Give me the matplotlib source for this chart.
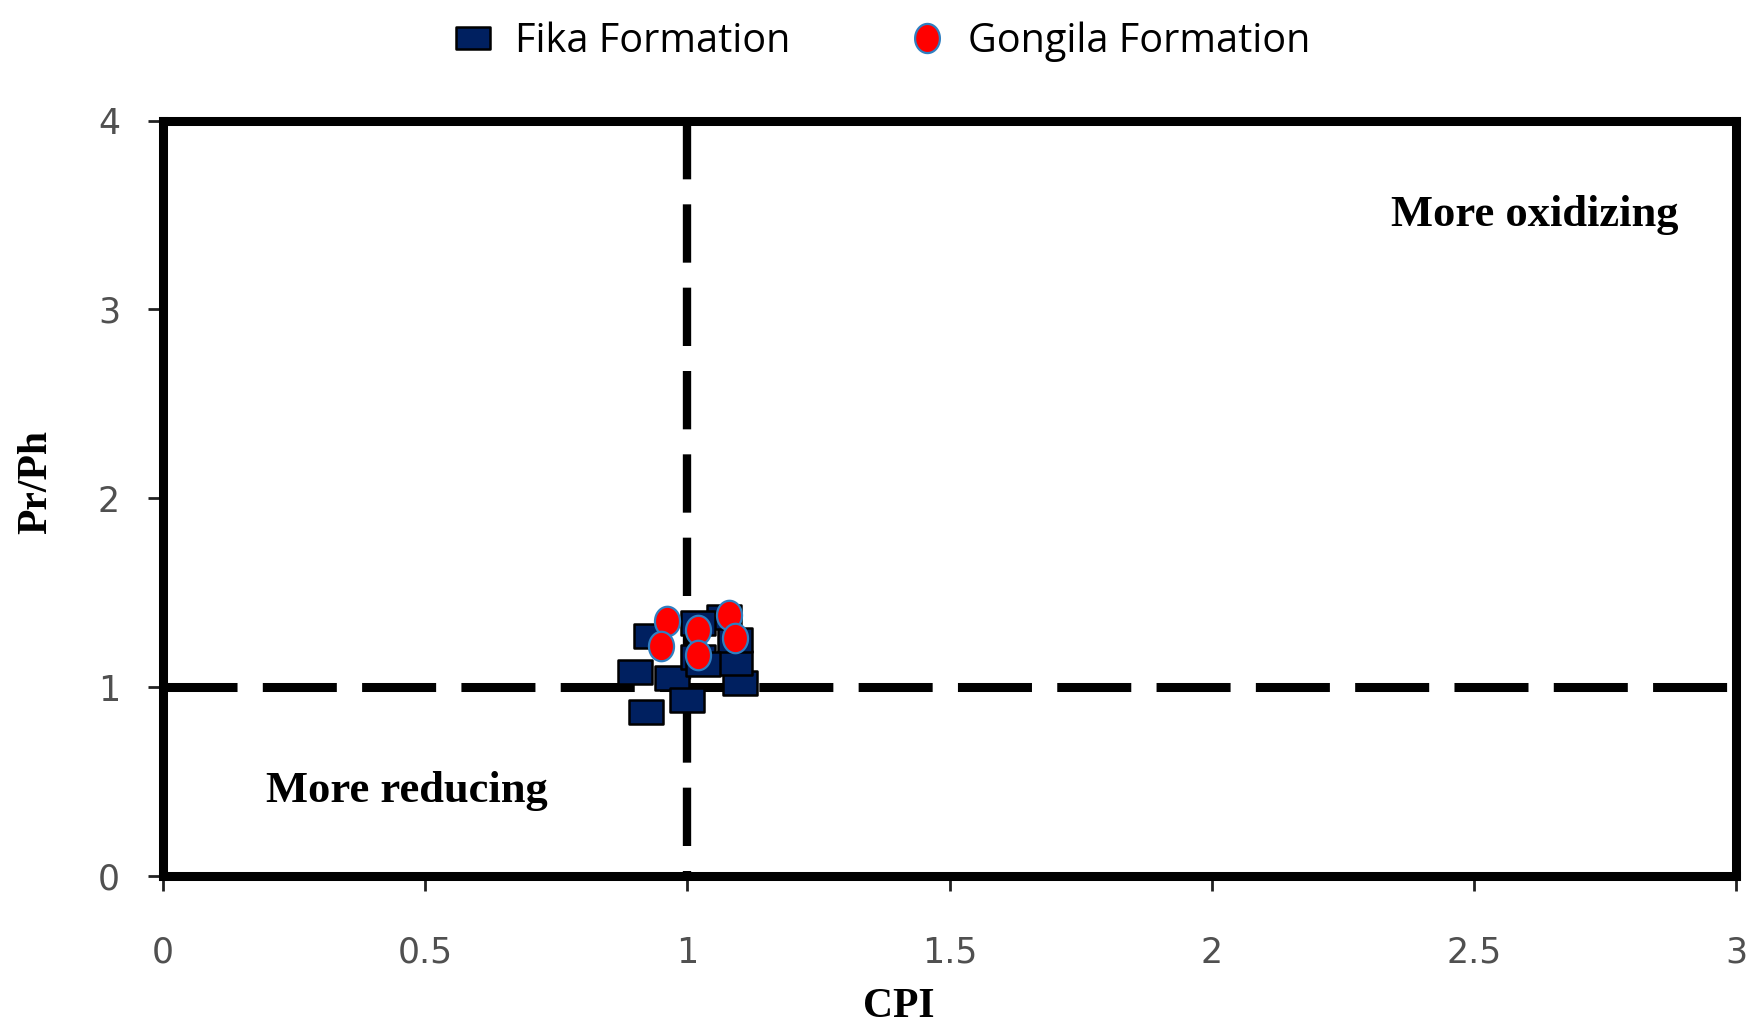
import numpy as np
import matplotlib.pyplot as plt
from matplotlib.path import Path
from matplotlib.lines import Line2D

# CPI and Pr/Ph values per formation
fika_cpi = [0.93, 0.90, 0.97, 1.00, 0.92, 1.10, 1.09, 1.09, 1.02, 1.07, 1.02, 1.03]
fika_prph = [1.27, 1.08, 1.05, 0.93, 0.87, 1.02, 1.13, 1.25, 1.16, 1.37, 1.34, 1.12]
gongila_cpi = [0.96, 0.95, 1.02, 1.02, 1.08, 1.09]
gongila_prph = [1.35, 1.22, 1.30, 1.17, 1.38, 1.26]

x_ticks = [0, 0.5, 1, 1.5, 2, 2.5, 3]
y_ticks = [0, 1, 2, 3, 4]

# wide box and tall oval markers
box = Path([(-1.45, -1), (1.45, -1), (1.45, 1), (-1.45, 1), (-1.45, -1)],
           [Path.MOVETO, Path.LINETO, Path.LINETO, Path.LINETO, Path.CLOSEPOLY])
t = np.linspace(0, 2 * np.pi, 60)
oval = Path(np.column_stack([0.85 * np.cos(t), np.sin(t)]), closed=True)

navy = '#002060'
red = '#ff0000'
edge_blue = '#2f7fc1'

fig = plt.figure(figsize=(17.48, 10.24), dpi=100)
ax = fig.add_axes([0.0933, 0.1445, 0.900, 0.7378])

ax.scatter(fika_cpi, fika_prph, marker=box, s=580, c=navy,
           edgecolors='black', linewidths=1.8, zorder=3)
ax.scatter(gongila_cpi, gongila_prph, marker=oval, s=450, c=red,
           edgecolors=edge_blue, linewidths=1.6, zorder=4)

# boundaries between reducing and oxidizing fields
ax.plot([0, 3], [1, 1], color='black', lw=6.5, dashes=(8.2, 2.8), zorder=2)
ax.plot([1, 1], [4, 0], color='black', lw=6.0, dashes=(7.0, 3.0), zorder=2)

ax.text(0.197, 0.39, 'More reducing', family='Liberation Serif',
        fontweight='bold', fontsize=32, va='baseline')
ax.text(2.341, 3.44, 'More oxidizing', family='Liberation Serif',
        fontweight='bold', fontsize=32, va='baseline')

ax.set_xlim(0, 3)
ax.set_ylim(0, 4)
ax.set_xticks(x_ticks)
ax.set_xticklabels([f'{v:g}' for v in x_ticks])
ax.set_yticks(y_ticks)
for s in ax.spines.values():
    s.set_linewidth(6.5)
ax.tick_params(direction='out', length=11, width=2, color='#222222',
               labelsize=25, labelcolor='#505050', pad=20)
ax.tick_params(axis='x', pad=32)
for lab in ax.get_xticklabels() + ax.get_yticklabels():
    lab.set_family(['Liberation Sans Narrow', 'DejaVu Sans'])

fig.text(0.514, 0.0166, 'CPI', family='Liberation Serif', fontweight='bold',
         fontsize=30, ha='center', va='center')
fig.text(0.021, 0.529, 'Pr/Ph', family='Liberation Serif', fontweight='bold',
         fontsize=30, ha='center', va='center', rotation=90)

handles = [
    Line2D([], [], ls='none', marker=box, markersize=24, markerfacecolor=navy,
           markeredgecolor='black', markeredgewidth=1.8),
    Line2D([], [], ls='none', marker=oval, markersize=21, markerfacecolor=red,
           markeredgecolor=edge_blue, markeredgewidth=1.6),
]
fig.legend(handles, ['Fika Formation', 'Gongila Formation'], ncol=2,
           loc='upper left', bbox_to_anchor=(0.238, 1.014), frameon=False,
           prop={'family': 'Open Sans', 'size': 28.5}, handlelength=1.1,
           handletextpad=0.5, columnspacing=2.9)

fig.savefig('out.png', dpi=100)
